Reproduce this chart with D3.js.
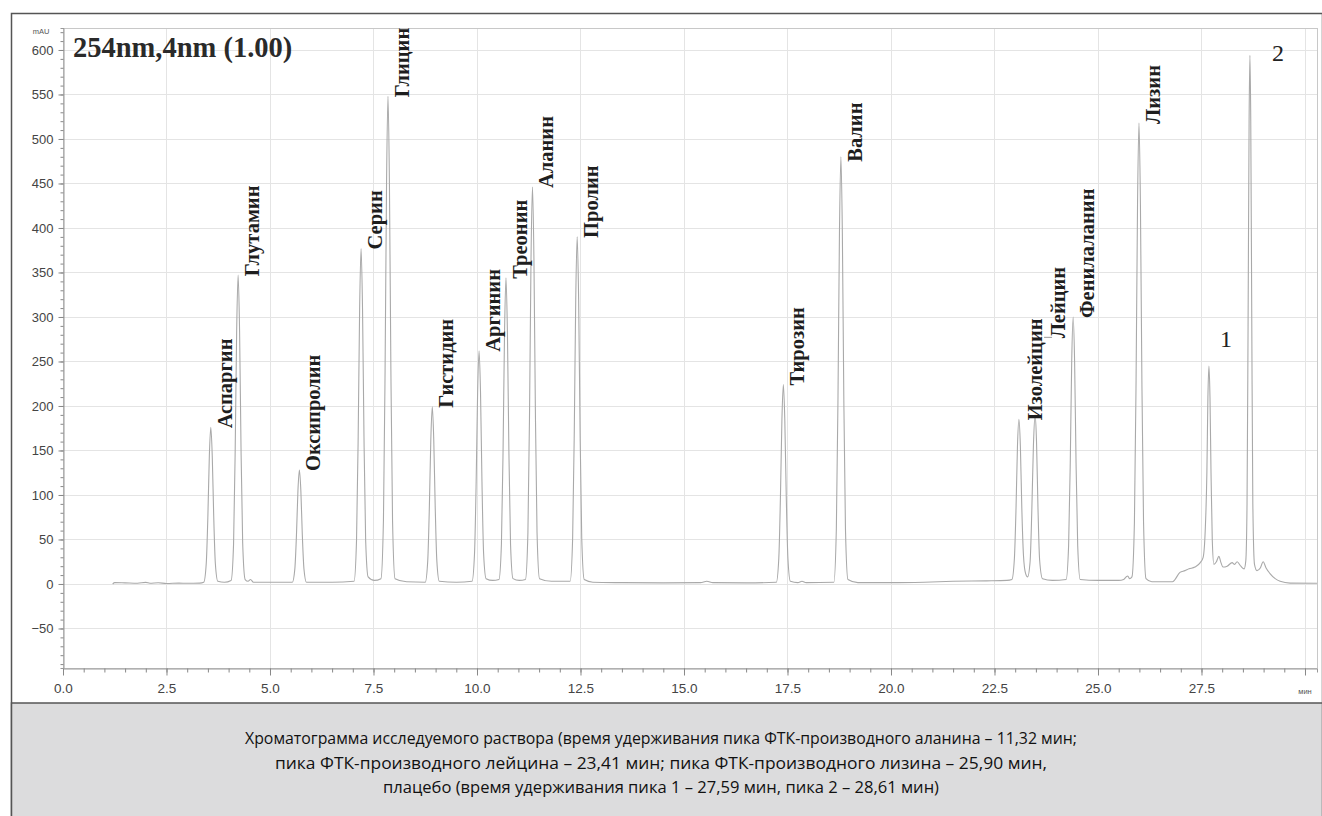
<!DOCTYPE html>
<html><head><meta charset="utf-8">
<script src="https://cdn.jsdelivr.net/npm/d3@7/dist/d3.min.js"></script>
<style>body{margin:0;background:#fff}svg{display:block}</style>
</head><body>
<svg id="c" width="1322" height="816"></svg>
<script>
// ---------------- data ----------------
const titleText = "254nm,4nm (1.00)";
const yUnit = "mAU";
const xUnit = "мин";
const xTickValues = [0, 2.5, 5, 7.5, 10, 12.5, 15, 17.5, 20, 22.5, 25, 27.5];
const xTickLabels = ["0.0","2.5","5.0","7.5","10.0","12.5","15.0","17.5","20.0","22.5","25.0","27.5"];
const yTickValues = [-50, 0, 50, 100, 150, 200, 250, 300, 350, 400, 450, 500, 550, 600];

const peakNames   = ["Аспаргин","Глутамин","Оксипролин","Серин","Глицин","Гистидин","Аргинин","Треонин","Аланин","Пролин","Тирозин","Валин","Изолейцин","Лейцин","Фенилаланин","Лизин"];
const peakTimes   = [3.57, 4.23, 5.71, 7.20, 7.85, 8.92, 10.05, 10.70, 11.34, 12.42, 17.40, 18.79, 23.09, 23.48, 24.40, 25.99];
const peakHeights = [176, 347, 128, 377, 548, 199, 262, 344, 446, 390, 224, 480, 185, 190, 300, 518];

const markerNames   = ["1", "2"];
const markerTimes   = [27.68, 28.67];
const markerHeights = [245, 594];

// chromatogram trace: [time (min), signal (mAU)]
const trace = [
[1.20,0],[1.25,1.5],[1.5,1.2],[1.8,0.8],[2.0,1.8],[2.1,0.8],[2.3,1.4],[2.5,0.5],[2.8,1],[3.0,0.8],[3.3,1],
[3.40,2],[3.46,23],[3.50,77],[3.535,144],[3.57,176],[3.605,144],[3.64,77],[3.68,23],[3.74,3],
[3.90,2],
[4.06,4],[4.12,45],[4.16,153],[4.195,285],[4.23,347],[4.265,285],[4.30,153],[4.34,46],[4.40,5],
[4.47,3],[4.53,5],[4.60,2],[5.2,2],
[5.54,2],[5.60,17],[5.64,56],[5.675,105],[5.71,128],[5.745,105],[5.78,56],[5.82,17],[5.88,2],
[6.5,2],
[7.03,3],[7.09,49],[7.13,166],[7.165,309],[7.20,377],[7.235,309],[7.27,166],[7.31,50],[7.37,8],[7.52,4],
[7.68,6],[7.74,71],[7.78,241],[7.815,449],[7.85,548],[7.885,449],[7.92,241],[7.96,71],[8.02,6],[8.3,2.5],
[8.75,2],[8.81,26],[8.85,88],[8.885,163],[8.92,199],[8.955,163],[8.99,88],[9.03,26],[9.09,3],[9.5,2],
[9.88,3],[9.94,34],[9.98,115],[10.015,215],[10.05,262],[10.085,215],[10.12,115],[10.16,34],[10.22,6],[10.38,4],
[10.53,5],[10.59,45],[10.63,151],[10.665,282],[10.70,344],[10.735,282],[10.77,151],[10.81,45],[10.87,6],[11.02,4],
[11.17,5],[11.23,58],[11.27,196],[11.305,366],[11.34,446],[11.375,366],[11.41,196],[11.45,58],[11.51,6],[11.8,3],
[12.25,3],[12.31,51],[12.35,172],[12.385,320],[12.42,390],[12.455,320],[12.49,172],[12.53,51],[12.59,5],[12.8,2],
[13.5,1.5],[14.5,1.2],[15.4,1.5],[15.55,3],[15.7,1.5],[16.5,1.2],
[17.23,2],[17.29,29],[17.33,99],[17.365,184],[17.40,224],[17.435,184],[17.47,99],[17.51,29],[17.57,3],[17.75,1.5],[17.85,3],[17.95,1.5],
[18.62,2],[18.68,62],[18.72,211],[18.755,394],[18.79,480],[18.825,394],[18.86,211],[18.90,62],[18.96,5],[19.2,1.5],
[20.0,1.5],[20.8,2],[21.5,3],[22.3,3.5],[22.8,4],
[22.92,5],[22.98,28],[23.02,85],[23.055,155],[23.09,185],[23.125,155],[23.16,85],[23.20,32],[23.25,12],[23.30,8],
[23.36,25],[23.40,80],[23.44,155],[23.48,190],[23.515,160],[23.55,86],[23.59,27],[23.66,6],[23.9,4],
[24.23,5],[24.29,43],[24.33,136],[24.365,250],[24.40,300],[24.435,250],[24.47,136],[24.51,43],[24.57,5],[25.0,4],[25.5,4],
[25.62,5],[25.68,8],[25.72,9],[25.76,6],
[25.82,8],[25.88,70],[25.92,230],[25.955,426],[25.99,518],[26.025,426],[26.06,230],[26.10,70],[26.16,6],[26.3,2.5],[26.8,2.5],
[26.98,13],[27.1,15],[27.2,17],[27.34,19],[27.47,24],
[27.54,30],[27.59,60],[27.63,125],[27.655,210],[27.68,245],[27.705,210],[27.73,125],[27.76,50],[27.80,22],[27.86,25],[27.92,31],[27.97,24],[28.02,19],[28.12,20],[28.24,24],[28.30,22],[28.36,25],[28.45,20],[28.53,17],
[28.57,26],[28.60,90],[28.625,290],[28.65,520],[28.67,594],[28.69,520],[28.715,290],[28.74,90],[28.78,22],[28.84,15],[28.92,18],[28.99,25],[29.06,18],[29.15,12],[29.28,6],[29.40,3],[29.64,1],[30.29,0.8]
];

const captionLines = [
  "Хроматограмма исследуемого раствора (время удерживания пика ФТК-производного аланина – 11,32 мин;",
  "пика ФТК-производного лейцина – 23,41 мин; пика ФТК-производного лизина – 25,90 мин,",
  "плацебо (время удерживания пика 1 – 27,59 мин, пика 2 – 28,61 мин)"
];

// ---------------- drawing ----------------
const svg = d3.select("#c");
const W = 1322, H = 816;
const plot = {l: 63, r: 1317, t: 28, b: 668};

// outer frame + caption area
svg.append("rect").attr("x", 11.5).attr("y", 13.5).attr("width", W - 11).attr("height", H)
  .attr("fill", "#fff").attr("stroke", "#555").attr("stroke-width", 1.5);
svg.append("rect").attr("x", 11.5).attr("y", 703).attr("width", W - 11).attr("height", H - 703 + 5)
  .attr("fill", "#dcdcdd").attr("stroke", "#555").attr("stroke-width", 1.5);

const x = d3.scaleLinear().domain([0, 30.29]).range([plot.l, plot.r]);
const y = d3.scaleLinear().domain([-94.4, 624.7]).range([plot.b, plot.t]);

// grid
const g = svg.append("g");
g.selectAll("line.vg").data(xTickValues.concat([30])).join("line")
  .attr("x1", d => Math.round(x(d)) + 0.5).attr("x2", d => Math.round(x(d)) + 0.5)
  .attr("y1", plot.t).attr("y2", plot.b).attr("stroke", "#e4e4e4");
g.selectAll("line.hg").data(yTickValues).join("line")
  .attr("y1", d => Math.round(y(d)) + 0.5).attr("y2", d => Math.round(y(d)) + 0.5)
  .attr("x1", plot.l).attr("x2", plot.r).attr("stroke", "#e4e4e4");

// plot border
svg.append("rect").attr("x", plot.l + 0.5).attr("y", plot.t + 0.5)
  .attr("width", plot.r - plot.l).attr("height", plot.b - plot.t)
  .attr("fill", "none").attr("stroke", "#c8c8c8");

// axes
const axisFont = "'Liberation Sans', Arial, sans-serif";
const xMinor = d3.axisBottom(x).tickValues(d3.range(0, 30.01, 0.5)).tickSize(4).tickFormat("");
svg.append("g").attr("transform", `translate(0,${plot.b + 0.5})`).call(xMinor)
  .call(s => s.select(".domain").attr("stroke", "#999"))
  .call(s => s.selectAll("line").attr("stroke", "#888"));
const xMajor = d3.axisBottom(x).tickValues(xTickValues.concat([30])).tickSize(7)
  .tickFormat((d, i) => i < xTickLabels.length ? xTickLabels[i] : "");
svg.append("g").attr("transform", `translate(0,${plot.b + 0.5})`).call(xMajor)
  .call(s => s.select(".domain").remove())
  .call(s => s.selectAll("line").attr("stroke", "#888"))
  .call(s => s.selectAll("text").attr("font-family", axisFont).attr("font-size", 13.5)
    .attr("fill", "#444").attr("dy", "1.05em"));

const yMinor = d3.axisLeft(y).tickValues(d3.range(-90, 621, 10)).tickSize(3).tickFormat("");
svg.append("g").attr("transform", `translate(${plot.l + 0.5},0)`).call(yMinor)
  .call(s => s.select(".domain").attr("stroke", "#999"))
  .call(s => s.selectAll("line").attr("stroke", "#888"));
const yMajor = d3.axisLeft(y).tickValues(yTickValues).tickSize(5).tickPadding(5).tickFormat(d3.format("d"));
svg.append("g").attr("transform", `translate(${plot.l + 0.5},0)`).call(yMajor)
  .call(s => s.select(".domain").remove())
  .call(s => s.selectAll("line").attr("stroke", "#888"))
  .call(s => s.selectAll("text").attr("font-family", axisFont).attr("font-size", 13)
    .attr("fill", "#444"));

svg.append("text").attr("x", 41).attr("y", 34).attr("text-anchor", "middle")
  .attr("font-family", axisFont).attr("font-size", 7.5).attr("fill", "#555").text(yUnit);
svg.append("text").attr("x", x(30)).attr("y", 694).attr("text-anchor", "middle")
  .attr("font-family", axisFont).attr("font-size", 7.5).attr("fill", "#555").text(xUnit);

// trace
const line = d3.line().x(d => x(d[0])).y(d => y(d[1])).curve(d3.curveMonotoneX);
svg.append("path").datum(trace).attr("d", line).attr("fill", "none")
  .attr("stroke", "#a9a9a9").attr("stroke-width", 1.1);

// title
svg.append("text").attr("x", 73).attr("y", 57)
  .attr("font-family", "'Liberation Serif', 'Times New Roman', serif").attr("font-weight", "bold")
  .attr("font-size", 28.5).attr("fill", "#2a2a2a").text(titleText);

// peak labels
const serif = "'Liberation Serif', 'Times New Roman', serif";
peakNames.forEach((name, i) => {
  let dx = 21, yy = y(peakHeights[i]) + 1;
  if (name === "Лейцин") { dx = 30; yy = y(276); }
  if (name === "Изолейцин") { dx = 23; }
  if (name === "Валин") { yy = y(peakHeights[i]) + 5; }
  const px = x(peakTimes[i]);
  svg.append("text")
    .attr("transform", `translate(${px + dx},${yy}) rotate(-90)`)
    .attr("font-family", serif).attr("font-weight", "bold").attr("font-size", 20.5)
    .attr("fill", "#1e1e1e").text(name);
  if (name === "Лейцин") {
    svg.append("path")
      .attr("d", `M${px + 9},${yy - 1} H${px + 17}`)
      .attr("stroke", "#999").attr("fill", "none");
  }
});

// numbered markers
markerNames.forEach((name, i) => {
  const offs = name === "1" ? {dx: 17, dy: -19} : {dx: 28, dy: 6};
  svg.append("text").attr("x", x(markerTimes[i]) + offs.dx).attr("y", y(markerHeights[i]) + offs.dy)
    .attr("text-anchor", "middle").attr("font-family", serif).attr("font-size", 24)
    .attr("fill", "#222").text(name);
});

// caption
const capWidths = [832, 772, 556];
captionLines.forEach((t, i) => {
  svg.append("text").attr("x", 661).attr("y", 744 + i * 24.5).attr("text-anchor", "middle")
    .attr("font-family", "'Open Sans', 'DejaVu Sans', sans-serif").attr("font-size", 17)
    .attr("fill", "#111").attr("textLength", capWidths[i]).attr("lengthAdjust", "spacingAndGlyphs")
    .text(t);
});
</script>
</body></html>
